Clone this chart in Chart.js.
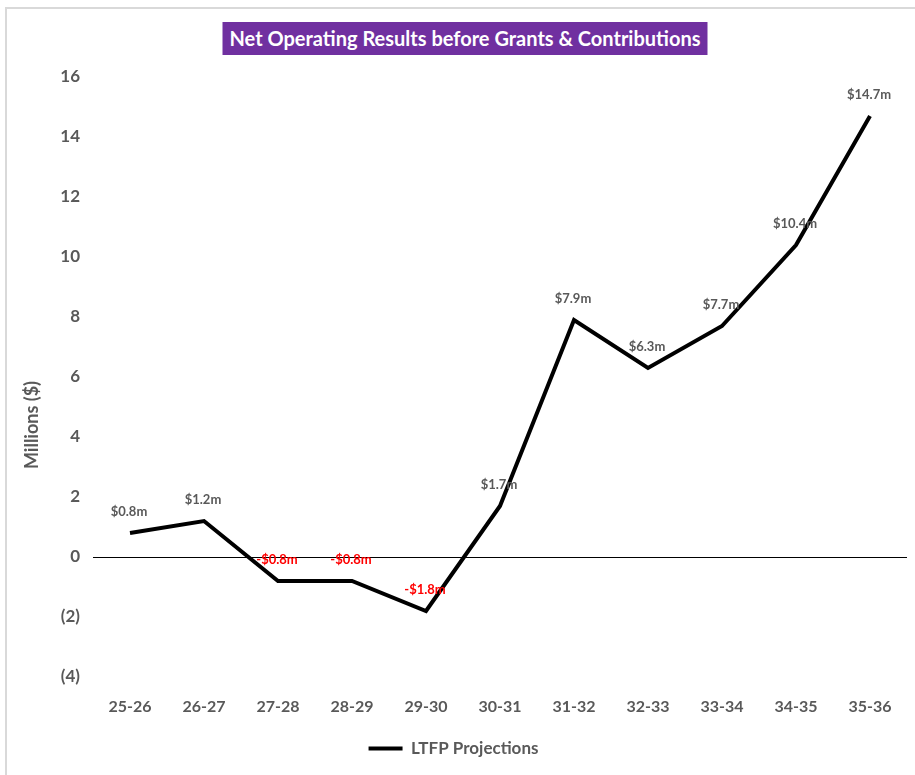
<!DOCTYPE html>
<html>
<head>
<meta charset="utf-8">
<script src="https://cdn.jsdelivr.net/npm/chart.js@4.4.0/dist/chart.umd.min.js"></script>
<style>
  html, body { margin: 0; padding: 0; background: #fff; }
  #wrap { position: relative; width: 915px; height: 775px; }
  #frame { position: absolute; left: 5px; top: 7px; width: 920px; height: 780px;
           border-left: 2px solid #d9d9d9; border-top: 2px solid #d9d9d9; box-sizing: border-box; pointer-events: none; }
  #title { position: absolute; top: 22px; left: 465px; transform: translateX(-50%);
           background: #7030A0; color: #fff; font: bold 20px Lato, "Open Sans", sans-serif;
           padding: 4px 7px 5px 7px; white-space: nowrap; line-height: 24px; }
  canvas { position: absolute; left: 0; top: 0; }
</style>
</head>
<body>
<div id="wrap">
  <canvas id="c" width="915" height="775"></canvas>
  <div id="frame"></div>
  <div id="title">Net Operating Results before Grants &amp; Contributions</div>
</div>
<script>
const categories = ["25-26","26-27","27-28","28-29","29-30","30-31","31-32","32-33","33-34","34-35","35-36"];
const ltfpValues = [0.8, 1.2, -0.8, -0.8, -1.8, 1.7, 7.9, 6.3, 7.7, 10.4, 14.7];
const seriesName = "LTFP Projections";
const yAxisTitle = "Millions ($)";
const yMin = -4, yMax = 16, yStep = 2;

const FONT = 'Lato, "Open Sans", sans-serif';
const GREY = '#595959';

function fmtLabel(v) {
  return (v < 0 ? '-$' : '$') + Math.abs(v).toFixed(1) + 'm';
}

const extras = {
  id: 'extras',
  afterDatasetsDraw(chart) {
    const ctx = chart.ctx;
    const meta = chart.getDatasetMeta(0);
    ctx.save();
    ctx.font = 'bold 13px ' + FONT;
    ctx.textAlign = 'center';
    ctx.textBaseline = 'middle';
    meta.data.forEach((pt, i) => {
      const v = ltfpValues[i];
      ctx.fillStyle = v < 0 ? '#ff0000' : GREY;
      ctx.fillText(fmtLabel(v), pt.x - 1, pt.y - 21);
    });
    ctx.restore();
  },
  afterDraw(chart) {
    const ctx = chart.ctx;
    const a = chart.chartArea;
    ctx.save();
    ctx.font = 'bold 18px ' + FONT;
    ctx.fillStyle = GREY;
    ctx.textAlign = 'center';
    ctx.textBaseline = 'middle';
    ctx.translate(32, a.top + (a.bottom - a.top) * 0.58);
    ctx.rotate(-Math.PI / 2);
    ctx.fillText(yAxisTitle, 0, 0);
    ctx.restore();
  }
};

new Chart(document.getElementById('c'), {
  type: 'line',
  data: {
    labels: categories,
    datasets: [{
      label: seriesName,
      data: ltfpValues,
      borderColor: '#000',
      backgroundColor: '#000',
      borderWidth: 4,
      pointRadius: 0,
      tension: 0
    }]
  },
  options: {
    responsive: false,
    animation: false,
    layout: { padding: { top: 77, right: 8, left: 0, bottom: 8 } },
    plugins: {
      title: { display: false },
      tooltip: { enabled: false },
      legend: {
        display: true,
        position: 'bottom',
        labels: {
          color: GREY,
          font: { family: FONT, size: 17, weight: 'bold' },
          boxWidth: 34,
          boxHeight: 4,
          padding: 10,
          generateLabels(chart) {
            const items = Chart.defaults.plugins.legend.labels.generateLabels(chart);
            items.forEach(it => { it.lineWidth = 0; it.fillStyle = '#000'; });
            return items;
          }
        }
      }
    },
    scales: {
      x: {
        offset: true,
        grid: { display: false, drawTicks: false },
        border: { display: false },
        ticks: { color: GREY, font: { family: FONT, size: 16, weight: 'bold' }, padding: 20, maxRotation: 0 },
        afterFit(s) { s.height = 53; }
      },
      y: {
        min: yMin, max: yMax,
        grid: {
          drawTicks: false,
          color: c => (c.tick && c.tick.value === 0) ? '#000' : 'rgba(0,0,0,0)',
          lineWidth: 1
        },
        border: { display: false },
        ticks: {
          stepSize: yStep,
          color: GREY,
          font: { family: FONT, size: 17, weight: 'bold' },
          padding: 13,
          callback: v => v < 0 ? '(' + (-v) + ')' : String(v)
        },
        afterFit(s) { s.width = 93; }
      }
    }
  },
  plugins: [extras]
});
</script>
</body>
</html>
